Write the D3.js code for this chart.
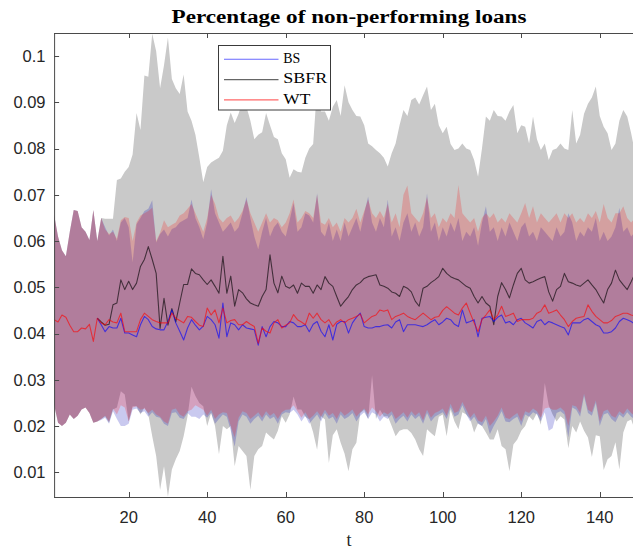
<!DOCTYPE html>
<html>
<head>
<meta charset="utf-8">
<script src="https://cdn.jsdelivr.net/npm/d3@7"></script>
<style>
  body { margin: 0; background: #fff; }
  svg { display: block; }
</style>
</head>
<body>
<svg id="chart" width="633" height="549"></svg>
<script>
// ---- data -------------------------------------------------------------
const t = d3.range(1, 151);               // periods 1..150
const seriesNames = ["BS", "SBFR", "WT"];
const xTicks = [20, 40, 60, 80, 100, 120, 140];
const yTicks = [0.01, 0.02, 0.03, 0.04, 0.05, 0.06, 0.07, 0.08, 0.09, 0.1];
const yTickLabels = ["0.01", "0.02", "0.03", "0.04", "0.05", "0.06", "0.07", "0.08", "0.09", "0.1"];

// mean paths (BS and SBFR start at t = 12; before that only WT is shown)
const wt = [
  .0430,.0425,.0440,.0435,.0418,.0404,.0404,.0412,.0410,.0420,
  .0383,.0433,.0423,.0419,.0430,.0425,.0423,.0444,.0404,.0404,
  .0404,.0404,.0430,.0444,.0437,.0430,.0426,.0423,.0423,.0423,
  .0444,.0433,.0428,.0423,.0437,.0435,.0426,.0418,.0415,.0455,
  .0440,.0451,.0423,.0455,.0423,.0428,.0430,.0419,.0419,.0426,
  .0420,.0415,.0379,.0412,.0405,.0401,.0423,.0430,.0412,.0418,
  .0423,.0441,.0430,.0425,.0419,.0444,.0433,.0444,.0430,.0423,
  .0430,.0415,.0425,.0430,.0423,.0430,.0433,.0437,.0442,.0423,
  .0430,.0437,.0440,.0451,.0448,.0451,.0430,.0437,.0440,.0444,
  .0437,.0433,.0430,.0437,.0444,.0437,.0430,.0435,.0437,.0450,
  .0458,.0451,.0444,.0440,.0455,.0466,.0444,.0423,.0404,.0430,
  .0440,.0451,.0430,.0440,.0459,.0437,.0440,.0444,.0426,.0430,
  .0430,.0430,.0433,.0444,.0448,.0462,.0444,.0447,.0451,.0440,
  .0430,.0415,.0426,.0433,.0435,.0437,.0462,.0448,.0437,.0430,
  .0423,.0423,.0428,.0437,.0440,.0444,.0444,.0440,.0438,.0436
];
const bs = [
  null,null,null,null,null,null,null,null,null,null,
  null,.0433,.0419,.0404,.0415,.0412,.0412,.0433,.0401,.0401,
  .0397,.0393,.0419,.0437,.0430,.0415,.0410,.0408,.0408,.0426,
  .0451,.0423,.0405,.0386,.0412,.0430,.0418,.0408,.0416,.0437,
  .0430,.0419,.0390,.0466,.0393,.0423,.0419,.0408,.0419,.0412,
  .0410,.0408,.0375,.0415,.0393,.0415,.0426,.0423,.0415,.0415,
  .0426,.0423,.0415,.0415,.0419,.0404,.0420,.0426,.0405,.0393,
  .0419,.0386,.0420,.0426,.0426,.0401,.0423,.0435,.0444,.0415,
  .0412,.0412,.0415,.0415,.0418,.0419,.0412,.0425,.0430,.0404,
  .0419,.0419,.0419,.0417,.0415,.0419,.0425,.0430,.0419,.0425,
  .0433,.0430,.0420,.0415,.0451,.0423,.0426,.0430,.0393,.0433,
  .0435,.0437,.0426,.0435,.0440,.0423,.0426,.0419,.0430,.0433,
  .0423,.0418,.0412,.0426,.0430,.0419,.0426,.0423,.0419,.0415,
  .0412,.0397,.0423,.0423,.0423,.0430,.0433,.0426,.0419,.0415,
  .0401,.0401,.0404,.0412,.0426,.0433,.0430,.0426,.0420,.0415
];
const sbfr = [
  null,null,null,null,null,null,null,null,null,null,
  null,.0433,.0425,.0418,.0420,.0462,.0466,.0516,.0495,.0513,
  .0495,.0509,.0545,.0560,.0588,.0560,.0530,.0411,.0476,.0418,
  .0454,.0425,.0466,.0506,.0506,.0540,.0530,.0527,.0516,.0506,
  .0516,.0502,.0487,.0567,.0487,.0524,.0459,.0495,.0488,.0475,
  .0466,.0462,.0459,.0480,.0495,.0570,.0509,.0488,.0524,.0502,
  .0498,.0505,.0487,.0509,.0502,.0502,.0487,.0505,.0495,.0523,
  .0509,.0502,.0480,.0459,.0470,.0480,.0495,.0505,.0510,.0519,
  .0523,.0525,.0527,.0505,.0502,.0498,.0490,.0487,.0480,.0502,
  .0498,.0490,.0470,.0459,.0498,.0502,.0510,.0516,.0523,.0541,
  .0530,.0523,.0519,.0516,.0509,.0502,.0498,.0480,.0466,.0480,
  .0466,.0459,.0419,.0480,.0510,.0495,.0477,.0505,.0530,.0541,
  .0516,.0509,.0512,.0516,.0520,.0523,.0490,.0470,.0495,.0502,
  .0530,.0512,.0509,.0505,.0502,.0509,.0516,.0505,.0495,.0480,
  .0466,.0495,.0509,.0537,.0516,.0505,.0495,.0512,.0530,.0520
];

// confidence bands: upper and lower bounds per model
const bsHi = [
  .0657,.0610,.0580,.0567,.0620,.0667,.0665,.0630,.0620,.0602,
  .0667,.0600,.0650,.0630,.0612,.0625,.0600,.0640,.0650,.0630,
  .0554,.0636,.0650,.0665,.0670,.0688,.0597,.0615,.0625,.0610,
  .0626,.0630,.0640,.0645,.0650,.0690,.0650,.0630,.0604,.0640,
  .0712,.0660,.0640,.0620,.0630,.0640,.0620,.0630,.0660,.0695,
  .0650,.0610,.0582,.0620,.0650,.0610,.0630,.0640,.0620,.0610,
  .0645,.0682,.0620,.0630,.0660,.0655,.0640,.0703,.0620,.0610,
  .0640,.0600,.0625,.0600,.0640,.0610,.0630,.0650,.0620,.0660,
  .0696,.0640,.0620,.0650,.0630,.0690,.0610,.0630,.0600,.0640,
  .0660,.0620,.0640,.0610,.0630,.0703,.0620,.0640,.0600,.0630,
  .0610,.0640,.0620,.0650,.0600,.0620,.0610,.0630,.0590,.0640,
  .0675,.0620,.0630,.0600,.0630,.0610,.0640,.0620,.0600,.0630,
  .0640,.0610,.0620,.0600,.0630,.0620,.0610,.0600,.0630,.0610,
  .0620,.0660,.0640,.0600,.0620,.0610,.0630,.0620,.0650,.0600,
  .0620,.0600,.0610,.0630,.0672,.0620,.0630,.0610,.0620,.0600
];
const bsLo = [
  .0246,.0207,.0200,.0207,.0225,.0215,.0222,.0236,.0240,.0228,
  .0207,.0210,.0213,.0218,.0205,.0232,.0215,.0200,.0200,.0205,
  .0235,.0238,.0228,.0232,.0220,.0230,.0220,.0218,.0205,.0200,
  .0228,.0230,.0218,.0215,.0228,.0220,.0220,.0215,.0225,.0218,
  .0228,.0205,.0215,.0225,.0220,.0190,.0155,.0210,.0225,.0220,
  .0205,.0215,.0222,.0210,.0225,.0215,.0220,.0205,.0225,.0230,
  .0228,.0235,.0225,.0210,.0222,.0205,.0215,.0225,.0210,.0228,
  .0215,.0220,.0205,.0225,.0215,.0220,.0228,.0210,.0222,.0230,
  .0215,.0230,.0225,.0210,.0220,.0215,.0225,.0205,.0215,.0222,
  .0210,.0225,.0215,.0222,.0205,.0228,.0210,.0220,.0225,.0230,
  .0215,.0240,.0220,.0225,.0245,.0225,.0210,.0220,.0205,.0200,
  .0215,.0182,.0200,.0215,.0232,.0210,.0208,.0215,.0220,.0200,
  .0225,.0220,.0230,.0225,.0210,.0230,.0190,.0195,.0228,.0232,
  .0225,.0175,.0240,.0235,.0220,.0265,.0228,.0222,.0250,.0200,
  .0225,.0228,.0215,.0208,.0225,.0218,.0230,.0220,.0215,.0225
];
const wtHi = [
  .0657,.0610,.0580,.0567,.0620,.0667,.0665,.0630,.0620,.0602,
  .0667,.0600,.0650,.0625,.0615,.0620,.0605,.0645,.0652,.0650,
  .0600,.0640,.0655,.0660,.0665,.0672,.0600,.0618,.0645,.0630,
  .0635,.0640,.0655,.0660,.0670,.0680,.0660,.0640,.0620,.0650,
  .0700,.0680,.0650,.0640,.0650,.0655,.0640,.0650,.0665,.0690,
  .0660,.0640,.0620,.0640,.0660,.0640,.0650,.0645,.0630,.0640,
  .0660,.0690,.0640,.0650,.0665,.0660,.0650,.0700,.0640,.0635,
  .0650,.0630,.0640,.0620,.0650,.0640,.0650,.0670,.0640,.0665,
  .0690,.0660,.0650,.0665,.0650,.0680,.0640,.0660,.0630,.0700,
  .0720,.0660,.0650,.0640,.0660,.0695,.0650,.0660,.0630,.0650,
  .0640,.0660,.0650,.0721,.0660,.0650,.0640,.0650,.0620,.0650,
  .0660,.0650,.0660,.0640,.0650,.0640,.0660,.0650,.0640,.0660,
  .0682,.0650,.0675,.0640,.0660,.0650,.0640,.0650,.0660,.0640,
  .0660,.0650,.0660,.0640,.0650,.0640,.0660,.0650,.0665,.0640,
  .0680,.0650,.0640,.0660,.0660,.0675,.0650,.0640,.0650,.0640
];
const wtLo = [
  .0246,.0207,.0200,.0207,.0225,.0215,.0222,.0236,.0240,.0228,
  .0207,.0210,.0215,.0222,.0210,.0238,.0225,.0245,.0240,.0210,
  .0240,.0243,.0235,.0238,.0228,.0235,.0225,.0220,.0210,.0205,
  .0235,.0238,.0225,.0220,.0232,.0235,.0245,.0240,.0235,.0222,
  .0235,.0215,.0225,.0230,.0228,.0200,.0175,.0218,.0232,.0228,
  .0215,.0222,.0230,.0218,.0232,.0222,.0228,.0215,.0230,.0235,
  .0236,.0245,.0232,.0218,.0230,.0215,.0222,.0232,.0220,.0235,
  .0222,.0228,.0215,.0232,.0222,.0228,.0236,.0220,.0230,.0238,
  .0225,.0240,.0232,.0220,.0230,.0225,.0232,.0215,.0222,.0230,
  .0218,.0232,.0222,.0230,.0212,.0235,.0218,.0228,.0232,.0238,
  .0222,.0248,.0228,.0232,.0252,.0235,.0218,.0228,.0212,.0208,
  .0222,.0200,.0210,.0222,.0240,.0218,.0215,.0222,.0228,.0210,
  .0232,.0228,.0238,.0232,.0218,.0238,.0240,.0235,.0235,.0240,
  .0232,.0200,.0245,.0242,.0228,.0270,.0235,.0230,.0255,.0210,
  .0232,.0236,.0222,.0218,.0232,.0225,.0238,.0228,.0222,.0232
];
const sbHi = [
  .0657,.0610,.0580,.0567,.0620,.0667,.0665,.0630,.0620,.0602,
  .0667,.0600,.0650,.0648,.0648,.0648,.0732,.0735,.0750,.0760,
  .0787,.0877,.0840,.0958,.0955,.1048,.1010,.0930,.0980,.1040,
  .0950,.0930,.0918,.0960,.0880,.0860,.0830,.0780,.0727,.0760,
  .0770,.0775,.0780,.0795,.0850,.0878,.0855,.0875,.0902,.0890,
  .0860,.0820,.0830,.0835,.0877,.0850,.0825,.0820,.0790,.0777,
  .0737,.0755,.0750,.0748,.0780,.0800,.0810,.0934,.0880,.0880,
  .0860,.0890,.0905,.0870,.0937,.0900,.0883,.0870,.0869,.0850,
  .0811,.0805,.0797,.0790,.0780,.0761,.0790,.0811,.0850,.0883,
  .0870,.0905,.0910,.0895,.0915,.0934,.0883,.0897,.0850,.0833,
  .0847,.0810,.0797,.0800,.0811,.0800,.0797,.0775,.0739,.0800,
  .0869,.0860,.0883,.0870,.0869,.0860,.0880,.0894,.0833,.0850,
  .0847,.0811,.0869,.0820,.0797,.0811,.0775,.0797,.0800,.0811,
  .0800,.0797,.0883,.0811,.0830,.0875,.0897,.0910,.0934,.0870,
  .0847,.0833,.0797,.0811,.0860,.0883,.0869,.0833,.0790,.0780
];
const sbLo = [
  .0246,.0207,.0200,.0207,.0225,.0215,.0222,.0236,.0240,.0228,
  .0207,.0210,.0215,.0221,.0207,.0236,.0240,.0275,.0268,.0210,
  .0243,.0243,.0225,.0240,.0225,.0178,.0135,.0062,.0113,.0047,
  .0106,.0128,.0146,.0178,.0221,.0285,.0265,.0250,.0243,.0200,
  .0228,.0200,.0139,.0200,.0193,.0200,.0113,.0157,.0146,.0135,
  .0062,.0135,.0150,.0157,.0186,.0178,.0171,.0190,.0221,.0207,
  .0225,.0264,.0236,.0236,.0220,.0214,.0186,.0149,.0221,.0214,
  .0120,.0180,.0193,.0164,.0140,.0102,.0150,.0164,.0228,.0235,
  .0215,.0310,.0215,.0235,.0221,.0221,.0200,.0178,.0190,.0193,
  .0193,.0185,.0171,.0150,.0135,.0193,.0185,.0178,.0220,.0225,
  .0178,.0235,.0210,.0193,.0230,.0225,.0215,.0186,.0206,.0200,
  .0186,.0171,.0171,.0193,.0157,.0150,.0102,.0160,.0171,.0190,
  .0200,.0221,.0212,.0228,.0203,.0293,.0245,.0225,.0210,.0221,
  .0214,.0152,.0200,.0186,.0210,.0190,.0175,.0133,.0180,.0178,
  .0105,.0128,.0135,.0165,.0106,.0186,.0210,.0214,.0190,.0180
];

// ---- layout -----------------------------------------------------------
const W = 633, H = 549;
const plot = { left: 54.1, right: 639, top: 33, bottom: 497 };
const axisColor = "#4a4a4a";
const textColor = "#262626";

const x = d3.scaleLinear().domain([1, 150]).range([plot.left, plot.right]);
const y = d3.scaleLinear().domain([0.00466, 0.10497]).range([plot.bottom, plot.top]);

const svg = d3.select("#chart");

svg.append("defs").append("clipPath").attr("id", "plot-clip")
  .append("rect")
  .attr("x", plot.left).attr("y", plot.top)
  .attr("width", plot.right - plot.left).attr("height", plot.bottom - plot.top);

const g = svg.append("g").attr("clip-path", "url(#plot-clip)");

function band(lo, hi) {
  return d3.area()
    .x((d, i) => x(t[i]))
    .y0((d, i) => y(lo[i]))
    .y1((d, i) => y(hi[i]))(t);
}
function path(vals) {
  return d3.line()
    .defined((d, i) => vals[i] != null)
    .x((d, i) => x(t[i]))
    .y((d, i) => y(vals[i]))(t);
}

// bands: SBFR grey, then translucent BS blue and WT red
g.append("path").attr("d", band(sbLo, sbHi)).attr("fill", "#c9c9c9");
g.append("path").attr("d", band(bsLo, bsHi)).attr("fill", "#0000b4").attr("fill-opacity", 0.21);
g.append("path").attr("d", band(wtLo, wtHi)).attr("fill", "#ff0000").attr("fill-opacity", 0.205);

// mean paths
const lineStyle = [
  { vals: sbfr, color: "#000000" },
  { vals: bs,   color: "#0000ff" },
  { vals: wt,   color: "#ff0000" }
];
lineStyle.forEach(s => {
  g.append("path").attr("d", path(s.vals))
    .attr("fill", "none").attr("stroke", s.color)
    .attr("stroke-opacity", 0.62).attr("stroke-width", 1.1)
    .attr("stroke-linejoin", "round");
});

// ---- axes -------------------------------------------------------------
const axes = svg.append("g").attr("stroke", axisColor).attr("stroke-width", 1).attr("fill", "none");
axes.append("line").attr("x1", plot.left).attr("x2", plot.right).attr("y1", plot.top + 0.5).attr("y2", plot.top + 0.5);
axes.append("line").attr("x1", plot.left).attr("x2", plot.right).attr("y1", plot.bottom + 0.5).attr("y2", plot.bottom + 0.5);
axes.append("line").attr("x1", plot.left + 0.5).attr("x2", plot.left + 0.5).attr("y1", plot.top).attr("y2", plot.bottom + 1);

const tickLen = 5;
xTicks.forEach(v => {
  const px = Math.round(x(v)) + 0.5;
  axes.append("line").attr("x1", px).attr("x2", px).attr("y1", plot.bottom).attr("y2", plot.bottom - tickLen);
  axes.append("line").attr("x1", px).attr("x2", px).attr("y1", plot.top).attr("y2", plot.top + tickLen);
});
yTicks.forEach(v => {
  const py = Math.round(y(v)) + 0.5;
  axes.append("line").attr("x1", plot.left).attr("x2", plot.left + tickLen).attr("y1", py).attr("y2", py);
});

const tickFont = "'Liberation Sans', Arial, Helvetica, sans-serif";
svg.append("g").selectAll("text").data(xTicks).join("text")
  .attr("x", d => x(d)).attr("y", 523)
  .attr("text-anchor", "middle")
  .attr("font-family", tickFont).attr("font-size", 16.5).attr("fill", textColor)
  .text(d => d);

svg.append("g").selectAll("text").data(yTicks).join("text")
  .attr("x", 45.5).attr("y", d => y(d))
  .attr("dy", "0.36em")
  .attr("text-anchor", "end")
  .attr("font-family", tickFont).attr("font-size", 16.5).attr("fill", textColor)
  .text((d, i) => yTickLabels[i]);

// axis label and title
const serif = "'Liberation Serif', 'DejaVu Serif', serif";
svg.append("text")
  .attr("x", 349).attr("y", 546)
  .attr("text-anchor", "middle")
  .attr("font-family", serif).attr("font-size", 18).attr("fill", textColor)
  .text("t");

svg.append("text")
  .attr("x", 349).attr("y", 22.7)
  .attr("text-anchor", "middle")
  .attr("font-family", serif).attr("font-weight", "bold")
  .attr("font-size", 18.5).attr("fill", "#000")
  .attr("textLength", 355).attr("lengthAdjust", "spacingAndGlyphs")
  .text("Percentage of non-performing loans");

// ---- legend -----------------------------------------------------------
const legend = svg.append("g");
legend.append("rect")
  .attr("x", 218.5).attr("y", 45.5).attr("width", 112).attr("height", 64.5)
  .attr("fill", "#fff").attr("stroke", "#3a3a3a").attr("stroke-width", 1);
const legendColors = ["#0000ff", "#000000", "#ff0000"];
const legendWidths = [17, 44, 27];
seriesNames.forEach((name, i) => {
  const ly = 59.3 + i * 20.3;
  legend.append("line")
    .attr("x1", 224).attr("x2", 278.5).attr("y1", ly).attr("y2", ly)
    .attr("stroke", legendColors[i]).attr("stroke-opacity", 0.6).attr("stroke-width", 1.1);
  legend.append("text")
    .attr("x", 283.3).attr("y", ly + 3.5 + 0.2 * i)
    .attr("font-family", serif).attr("font-size", 14.5).attr("fill", "#000")
    .attr("textLength", legendWidths[i]).attr("lengthAdjust", "spacingAndGlyphs")
    .text(name);
});
</script>
</body>
</html>
